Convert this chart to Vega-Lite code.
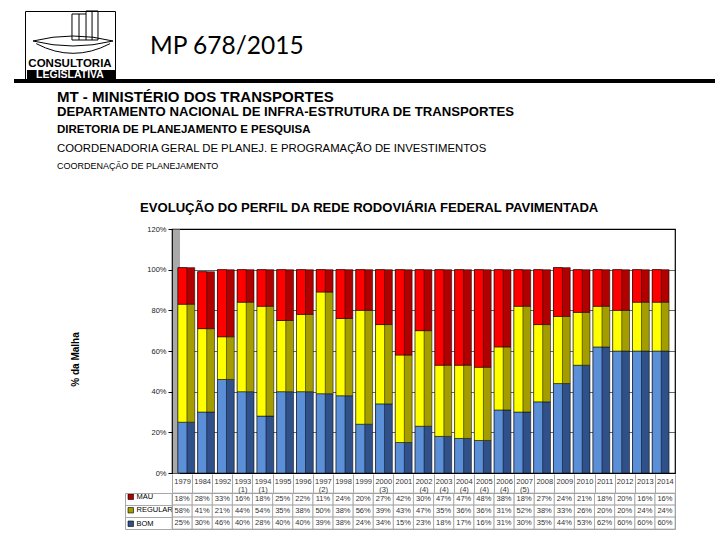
{
 "$schema": "https://vega.github.io/schema/vega-lite/v6.json",
 "background": "#ffffff",
 "padding": {"left": 14, "top": 8, "right": 0, "bottom": 0},
 "bounds": "flush",
 "spacing": 0,
 "datasets": {
  "rede": [
   {"ano":"1979","serie":"BOM","valor":0.25,"ordem":1},{"ano":"1979","serie":"REGULAR","valor":0.58,"ordem":2},{"ano":"1979","serie":"MAU","valor":0.18,"ordem":3},
   {"ano":"1984","serie":"BOM","valor":0.30,"ordem":1},{"ano":"1984","serie":"REGULAR","valor":0.41,"ordem":2},{"ano":"1984","serie":"MAU","valor":0.28,"ordem":3},
   {"ano":"1992","serie":"BOM","valor":0.46,"ordem":1},{"ano":"1992","serie":"REGULAR","valor":0.21,"ordem":2},{"ano":"1992","serie":"MAU","valor":0.33,"ordem":3},
   {"ano":"1993 (1)","serie":"BOM","valor":0.40,"ordem":1},{"ano":"1993 (1)","serie":"REGULAR","valor":0.44,"ordem":2},{"ano":"1993 (1)","serie":"MAU","valor":0.16,"ordem":3},
   {"ano":"1994 (1)","serie":"BOM","valor":0.28,"ordem":1},{"ano":"1994 (1)","serie":"REGULAR","valor":0.54,"ordem":2},{"ano":"1994 (1)","serie":"MAU","valor":0.18,"ordem":3},
   {"ano":"1995","serie":"BOM","valor":0.40,"ordem":1},{"ano":"1995","serie":"REGULAR","valor":0.35,"ordem":2},{"ano":"1995","serie":"MAU","valor":0.25,"ordem":3},
   {"ano":"1996","serie":"BOM","valor":0.40,"ordem":1},{"ano":"1996","serie":"REGULAR","valor":0.38,"ordem":2},{"ano":"1996","serie":"MAU","valor":0.22,"ordem":3},
   {"ano":"1997 (2)","serie":"BOM","valor":0.39,"ordem":1},{"ano":"1997 (2)","serie":"REGULAR","valor":0.50,"ordem":2},{"ano":"1997 (2)","serie":"MAU","valor":0.11,"ordem":3},
   {"ano":"1998","serie":"BOM","valor":0.38,"ordem":1},{"ano":"1998","serie":"REGULAR","valor":0.38,"ordem":2},{"ano":"1998","serie":"MAU","valor":0.24,"ordem":3},
   {"ano":"1999","serie":"BOM","valor":0.24,"ordem":1},{"ano":"1999","serie":"REGULAR","valor":0.56,"ordem":2},{"ano":"1999","serie":"MAU","valor":0.20,"ordem":3},
   {"ano":"2000 (3)","serie":"BOM","valor":0.34,"ordem":1},{"ano":"2000 (3)","serie":"REGULAR","valor":0.39,"ordem":2},{"ano":"2000 (3)","serie":"MAU","valor":0.27,"ordem":3},
   {"ano":"2001","serie":"BOM","valor":0.15,"ordem":1},{"ano":"2001","serie":"REGULAR","valor":0.43,"ordem":2},{"ano":"2001","serie":"MAU","valor":0.42,"ordem":3},
   {"ano":"2002 (4)","serie":"BOM","valor":0.23,"ordem":1},{"ano":"2002 (4)","serie":"REGULAR","valor":0.47,"ordem":2},{"ano":"2002 (4)","serie":"MAU","valor":0.30,"ordem":3},
   {"ano":"2003 (4)","serie":"BOM","valor":0.18,"ordem":1},{"ano":"2003 (4)","serie":"REGULAR","valor":0.35,"ordem":2},{"ano":"2003 (4)","serie":"MAU","valor":0.47,"ordem":3},
   {"ano":"2004 (4)","serie":"BOM","valor":0.17,"ordem":1},{"ano":"2004 (4)","serie":"REGULAR","valor":0.36,"ordem":2},{"ano":"2004 (4)","serie":"MAU","valor":0.47,"ordem":3},
   {"ano":"2005 (4)","serie":"BOM","valor":0.16,"ordem":1},{"ano":"2005 (4)","serie":"REGULAR","valor":0.36,"ordem":2},{"ano":"2005 (4)","serie":"MAU","valor":0.48,"ordem":3},
   {"ano":"2006 (4)","serie":"BOM","valor":0.31,"ordem":1},{"ano":"2006 (4)","serie":"REGULAR","valor":0.31,"ordem":2},{"ano":"2006 (4)","serie":"MAU","valor":0.38,"ordem":3},
   {"ano":"2007 (5)","serie":"BOM","valor":0.30,"ordem":1},{"ano":"2007 (5)","serie":"REGULAR","valor":0.52,"ordem":2},{"ano":"2007 (5)","serie":"MAU","valor":0.18,"ordem":3},
   {"ano":"2008","serie":"BOM","valor":0.35,"ordem":1},{"ano":"2008","serie":"REGULAR","valor":0.38,"ordem":2},{"ano":"2008","serie":"MAU","valor":0.27,"ordem":3},
   {"ano":"2009","serie":"BOM","valor":0.44,"ordem":1},{"ano":"2009","serie":"REGULAR","valor":0.33,"ordem":2},{"ano":"2009","serie":"MAU","valor":0.24,"ordem":3},
   {"ano":"2010","serie":"BOM","valor":0.53,"ordem":1},{"ano":"2010","serie":"REGULAR","valor":0.26,"ordem":2},{"ano":"2010","serie":"MAU","valor":0.21,"ordem":3},
   {"ano":"2011","serie":"BOM","valor":0.62,"ordem":1},{"ano":"2011","serie":"REGULAR","valor":0.20,"ordem":2},{"ano":"2011","serie":"MAU","valor":0.18,"ordem":3},
   {"ano":"2012","serie":"BOM","valor":0.60,"ordem":1},{"ano":"2012","serie":"REGULAR","valor":0.20,"ordem":2},{"ano":"2012","serie":"MAU","valor":0.20,"ordem":3},
   {"ano":"2013","serie":"BOM","valor":0.60,"ordem":1},{"ano":"2013","serie":"REGULAR","valor":0.24,"ordem":2},{"ano":"2013","serie":"MAU","valor":0.16,"ordem":3},
   {"ano":"2014","serie":"BOM","valor":0.60,"ordem":1},{"ano":"2014","serie":"REGULAR","valor":0.24,"ordem":2},{"ano":"2014","serie":"MAU","valor":0.16,"ordem":3}
  ]
 },
 "vconcat": [
  {
   "hconcat": [
    {"width": 11, "height": 68, "data": {"values": []}, "mark": "point"},
    {
     "width": 90, "height": 68,
     "data": {"values": [{}]},
     "view": {"stroke": "#000000", "strokeWidth": 1},
     "layer": [
      {"mark": {"type": "point", "shape": "M 0.044 -0.689 L 0.356 -0.689 L 0.356 -0.756 L 0.622 -0.756 L 0.622 -0.111 L 0.044 -0.111 Z M 0.2 -0.689 L 0.2 -0.111 M 0.356 -0.689 L 0.356 -0.111 M 0.49 -0.756 L 0.49 -0.111 M -0.822 -0.089 Q 0.067 -0.311 0.956 -0.089 Q 0.067 0.133 -0.822 -0.089 Z M -0.75 -0.03 Q 0.067 0.4 0.89 -0.03", "size": 8100, "filled": false, "stroke": "#000000", "strokeWidth": 1, "opacity": 1}, "encoding": {}},
      {"mark": {"type": "point", "shape": "M -0.956 0.556 L 1 0.556 L 1 0.756 L -0.956 0.756 Z", "size": 8100, "filled": true, "fill": "#000000", "strokeWidth": 0, "opacity": 1}, "encoding": {}},
      {"mark": {"type": "text", "text": "CONSULTORIA", "font": "Liberation Sans", "fontWeight": "bold", "fontSize": 11.5, "dy": 21.5, "baseline": "alphabetic", "color": "#000000"}, "encoding": {}},
      {"mark": {"type": "text", "text": "LEGISLATIVA", "font": "Liberation Sans", "fontWeight": "bold", "fontSize": 10.5, "dy": 33, "baseline": "alphabetic", "color": "#ffffff"}, "encoding": {}}
     ]
    },
    {"width": 35, "height": 68, "data": {"values": []}, "mark": "point"},
    {
     "width": 10, "height": 20,
     "data": {"values": []}, "mark": "point",
     "title": {"text": "MP 678/2015", "orient": "bottom", "anchor": "start", "frame": "group", "baseline": "top", "offset": 4, "font": "Lato", "fontSize": 24.5, "fontWeight": "normal", "color": "#000000"}
    }
   ],
   "spacing": 0,
   "bounds": "flush"
  },
  {"width": 10, "height": 68, "data": {"values": []}, "mark": "point"},
  {
   "width": 701, "height": 4,
   "data": {"values": []}, "mark": "point",
   "view": {"fill": "#000000", "stroke": null},
   "title": {"text": "MT - MINISTÉRIO DOS TRANSPORTES", "orient": "bottom", "anchor": "start", "frame": "group", "dx": 43, "offset": 7.3, "baseline": "top", "fontSize": 15, "fontWeight": "bold", "color": "#000000",
             "subtitle": "DEPARTAMENTO NACIONAL DE INFRA-ESTRUTURA DE TRANSPORTES", "subtitleFontSize": 13.15, "subtitleFontWeight": "bold", "subtitleColor": "#000000", "subtitlePadding": 1}
  },
  {
   "width": 10, "height": 38,
   "data": {"values": []}, "mark": "point",
   "title": {"text": "DIRETORIA DE PLANEJAMENTO E PESQUISA", "orient": "bottom", "anchor": "start", "frame": "group", "dx": 43, "offset": 3.1, "baseline": "top", "fontSize": 11.5, "fontWeight": "bold", "color": "#000000",
             "subtitle": "COORDENADORIA GERAL DE PLANEJ. E PROGRAMAÇÃO DE INVESTIMENTOS", "subtitleFontSize": 11.35, "subtitleFontWeight": "normal", "subtitleColor": "#000000", "subtitlePadding": 7.5}
  },
  {
   "width": 10, "height": 37,
   "data": {"values": []}, "mark": "point",
   "title": {"text": "COORDENAÇÃO DE PLANEJAMENTO", "orient": "bottom", "anchor": "start", "frame": "group", "dx": 43, "offset": 3.9, "baseline": "top", "fontSize": 9, "fontWeight": "normal", "color": "#000000"}
  },
  {"width": 10, "height": 71, "data": {"values": []}, "mark": "point"},
  {
   "hconcat": [
    {"width": 158, "height": 10, "data": {"values": []}, "mark": "point"},
    {
     "vconcat": [
      {
       "width": 503, "height": 244,
       "data": {"name": "rede"},
       "view": {"stroke": "#000000", "strokeWidth": 1.2},
       "title": {"text": "EVOLUÇÃO DO PERFIL DA REDE RODOVIÁRIA FEDERAL PAVIMENTADA", "anchor": "start", "frame": "group", "dx": -32, "offset": -2.6, "baseline": "bottom", "fontSize": 13.1, "fontWeight": "bold", "color": "#000000"},
       "encoding": {
        "x": {"field": "ano", "type": "nominal", "sort": null, "scale": {"paddingInner": 0.15, "paddingOuter": 0.3}, "axis": null},
        "y": {"field": "valor", "type": "quantitative", "stack": "zero", "scale": {"domain": [0, 1.2], "nice": false},
              "axis": {"values": [0, 0.2, 0.4, 0.6, 0.8, 1, 1.2], "format": ".0%", "grid": true, "gridColor": "#000000", "gridWidth": 0.6,
                       "domainColor": "#a9a9a9", "domainWidth": 7, "offset": -4, "tickColor": "#000000", "tickSize": 8,
                       "labelFontSize": 7.5, "labelColor": "#222222", "labelPadding": 2, "labelFont": "Liberation Sans",
                       "title": "% da Malha", "titleFontSize": 10, "titleFontWeight": "bold", "titleColor": "#000000", "titlePadding": 66, "titleY": 130}},
        "order": {"field": "ordem", "type": "quantitative"}
       },
       "layer": [
        {"mark": {"type": "bar", "stroke": "#000000", "strokeWidth": 0.5},
         "encoding": {"color": {"field": "serie", "type": "nominal", "scale": {"domain": ["MAU", "REGULAR", "BOM"], "range": ["#b00000", "#a39d00", "#2f5088"]},
                                "legend": {"orient": "none", "legendX": -45, "legendY": 264, "title": null, "symbolType": "square", "symbolSize": 30,
                                           "symbolStrokeColor": "#000000", "symbolStrokeWidth": 0.6, "labelFontSize": 7.5, "labelFont": "Liberation Sans",
                                           "labelColor": "#000000", "labelOffset": 2, "rowPadding": 4.5, "padding": 0, "offset": 0}}}},
        {"mark": {"type": "bar", "stroke": "#000000", "strokeWidth": 0.5, "size": 9, "xOffset": -3.9},
         "encoding": {"fill": {"field": "ordem", "type": "ordinal", "scale": {"domain": [3, 2, 1], "range": ["#ff0000", "#ffff00", "#5b8fd8"]}, "legend": null}}}
       ]
      },
      {
       "width": 503, "height": 36,
       "data": {"name": "rede"},
       "view": {"stroke": "#a0a0a0", "strokeWidth": 1},
       "encoding": {
        "x": {"field": "ano", "type": "nominal", "sort": null, "scale": {"paddingInner": 0, "paddingOuter": 0},
              "axis": {"orient": "top", "title": null, "labelExpr": "split(datum.label, ' ')", "labelAngle": 0, "labelBaseline": "top",
                       "labelPadding": -3, "labelFontSize": 7.5, "labelColor": "#333333", "labelFont": "Liberation Sans", "labelLineHeight": 8.5,
                       "labelOverlap": false, "ticks": true, "tickSize": 19, "tickColor": "#a8a8a8", "tickBand": "extent", "domain": false, "grid": false}},
        "y": {"field": "serie", "type": "nominal", "sort": ["MAU", "REGULAR", "BOM"], "scale": {"paddingInner": 0, "paddingOuter": 0},
              "axis": {"title": null, "labels": false, "ticks": true, "tickSize": -47, "offset": 47, "tickBand": "extent", "tickColor": "#a8a8a8", "domain": true, "domainColor": "#a8a8a8", "grid": false}}
       },
       "layer": [
        {"mark": {"type": "rect", "filled": false, "color": "#a8a8a8", "strokeWidth": 0.7}},
        {"mark": {"type": "text", "fontSize": 7.5, "color": "#333333", "font": "Liberation Sans"},
         "encoding": {"text": {"field": "valor", "type": "quantitative", "format": ".0%"}}}
       ]
      }
     ],
     "spacing": 20,
     "bounds": "flush",
     "resolve": {"scale": {"color": "independent", "fill": "independent"}, "legend": {"color": "independent", "fill": "independent"}}
    }
   ],
   "spacing": 0,
   "bounds": "flush"
  }
 ],
 "config": {
  "background": "#ffffff",
  "view": {"stroke": null},
  "font": "Liberation Sans",
  "title": {"font": "Liberation Sans", "color": "#000000", "subtitleFont": "Liberation Sans", "subtitleColor": "#000000"},
  "axis": {"labelFont": "Liberation Sans", "titleFont": "Liberation Sans"}
 }
}
